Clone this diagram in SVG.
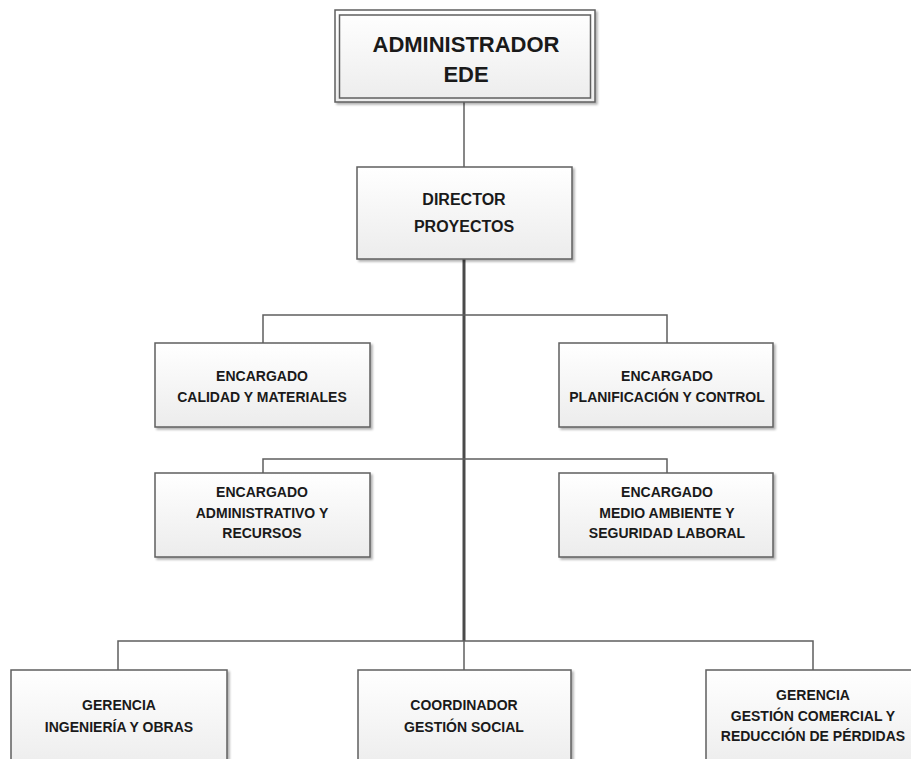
<svg xmlns="http://www.w3.org/2000/svg" width="911" height="759" viewBox="0 0 911 759">
<defs>
<linearGradient id="g" x1="0" y1="0" x2="0" y2="1">
<stop offset="0" stop-color="#ffffff"/>
<stop offset="1" stop-color="#ececec"/>
</linearGradient>
<filter id="sh" x="-5%" y="-5%" width="115%" height="120%">
<feDropShadow dx="2" dy="2" stdDeviation="1" flood-color="#000" flood-opacity="0.3"/>
</filter>
</defs>
<style>
.box{fill:url(#g);stroke:#5f5f5f;stroke-width:1.5;filter:url(#sh)}
.inner{fill:none;stroke:#5f5f5f;stroke-width:1.5}
.t{font-family:"Liberation Sans",Arial,sans-serif;font-weight:bold;font-size:14px;fill:#1a1a1a;text-anchor:middle}
.t16{font-size:16px}
.t22{font-size:22px}
.ln{fill:none;stroke:#5f5f5f;stroke-width:1.5}
.main{fill:none;stroke:#4a4a4a;stroke-width:3}
</style>
<rect width="911" height="759" fill="#fff"/>
<g id="connectors">
<line class="ln" x1="464" y1="102" x2="464" y2="167"/>
<line class="main" x1="464" y1="259" x2="464" y2="641"/>
<line class="ln" x1="464" y1="641" x2="464" y2="670"/>
<polyline class="ln" points="263,343 263,315 667,315 667,343"/>
<polyline class="ln" points="263,473 263,459 667,459 667,473"/>
<polyline class="ln" points="118,670 118,641 813,641 813,670"/>
</g>
<g id="administrador">
<rect class="box" x="335" y="10" width="260" height="92"/>
<rect class="inner" x="339.5" y="15" width="251" height="83"/>
<text class="t t22" x="466" y="52">ADMINISTRADOR</text>
<text class="t t22" x="466" y="82">EDE</text>
</g>
<g id="director">
<rect class="box" x="357" y="167" width="215" height="92"/>
<text class="t t16" x="464" y="205">DIRECTOR</text>
<text class="t t16" x="464" y="232">PROYECTOS</text>
</g>
<g id="calidad">
<rect class="box" x="155" y="343" width="215" height="84"/>
<text class="t" x="262" y="381">ENCARGADO</text>
<text class="t" x="262" y="402">CALIDAD Y MATERIALES</text>
</g>
<g id="planificacion">
<rect class="box" x="559" y="343" width="214" height="84"/>
<text class="t" x="667" y="381">ENCARGADO</text>
<text class="t" x="667" y="402">PLANIFICACIÓN Y CONTROL</text>
</g>
<g id="administrativo">
<rect class="box" x="155" y="473" width="215" height="84"/>
<text class="t" x="262" y="497">ENCARGADO</text>
<text class="t" x="262" y="518">ADMINISTRATIVO Y</text>
<text class="t" x="262" y="538">RECURSOS</text>
</g>
<g id="medioambiente">
<rect class="box" x="559" y="473" width="214" height="84"/>
<text class="t" x="667" y="497">ENCARGADO</text>
<text class="t" x="667" y="518">MEDIO AMBIENTE Y</text>
<text class="t" x="667" y="538">SEGURIDAD LABORAL</text>
</g>
<g id="ingenieria">
<rect class="box" x="11" y="670" width="216" height="100"/>
<text class="t" x="119" y="710">GERENCIA</text>
<text class="t" x="119" y="732">INGENIERÍA Y OBRAS</text>
</g>
<g id="coordinador">
<rect class="box" x="358" y="670" width="213" height="100"/>
<text class="t" x="464" y="710">COORDINADOR</text>
<text class="t" x="464" y="732">GESTIÓN SOCIAL</text>
</g>
<g id="comercial">
<rect class="box" x="706" y="670" width="215" height="100"/>
<text class="t" x="813" y="700">GERENCIA</text>
<text class="t" x="813" y="721">GESTIÓN COMERCIAL Y</text>
<text class="t" x="813" y="741">REDUCCIÓN DE PÉRDIDAS</text>
</g>
</svg>
